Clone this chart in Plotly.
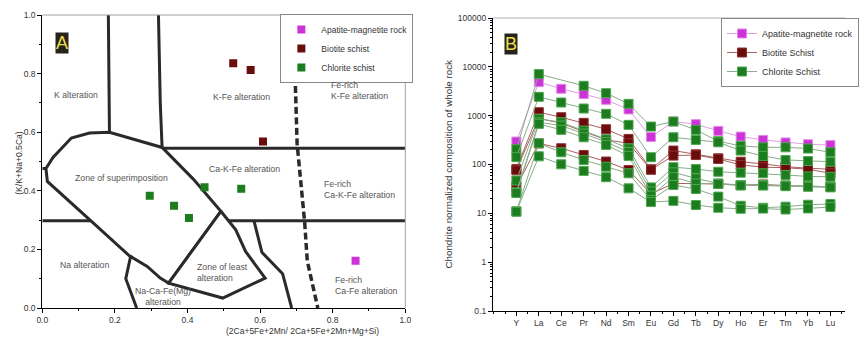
import plotly.graph_objects as go

# ---------------- Panel A : sample points ----------------
apatite_a_x = [0.863]
apatite_a_y = [0.161]
biotite_a_x = [0.526, 0.574, 0.608]
biotite_a_y = [0.835, 0.812, 0.568]
chlorite_a_x = [0.296, 0.363, 0.404, 0.447, 0.548]
chlorite_a_y = [0.383, 0.349, 0.307, 0.412, 0.407]

# ---------------- Panel A : field boundaries ----------------
k_line_x = [0.182, 0.185]
k_line_y = [1.0, 0.600]
kfe_line_x = [0.320, 0.325, 0.330]
kfe_line_y = [1.0, 0.700, 0.548]
h055_x = [0.330, 1.0]
h055_y = [0.545, 0.545]
h030_x = [0.0, 1.0]
h030_y = [0.298, 0.298]
stub_x = [0.0, 0.012]
stub_y = [0.476, 0.476]
superimp_x = [0.010, 0.030, 0.080, 0.130, 0.185, 0.330, 0.416, 0.492, 0.348, 0.325, 0.289, 0.240, 0.131, 0.014, 0.010]
superimp_y = [0.476, 0.515, 0.580, 0.597, 0.600, 0.548, 0.440, 0.330, 0.085, 0.102, 0.142, 0.178, 0.301, 0.432, 0.476]
least_x = [0.492, 0.533, 0.560, 0.614, 0.497, 0.348, 0.492]
least_y = [0.330, 0.267, 0.193, 0.102, 0.034, 0.085, 0.330]
nacafe_x = [0.244, 0.230, 0.260]
nacafe_y = [0.180, 0.100, 0.0]
right_x = [0.583, 0.605, 0.662, 0.687]
right_y = [0.298, 0.190, 0.117, 0.0]
dash_x = [0.664, 0.665, 0.696, 0.702, 0.723, 0.730, 0.759]
dash_y = [1.0, 0.890, 0.810, 0.560, 0.290, 0.160, 0.0]

field_labels = ["K alteration", "K-Fe alteration", "Ca-K-Fe alteration", "Zone of superimposition",
                "Na alteration", "Na-Ca-Fe(Mg)<br>alteration"]
field_lx = [0.092, 0.548, 0.558, 0.219, 0.117, 0.332]
field_ly = [0.728, 0.719, 0.475, 0.443, 0.147, 0.040]
field_labels_left = ["Fe-rich<br>K-Fe alteration", "Fe-rich<br>Ca-K-Fe alteration",
                     "Zone of least<br>alteration", "Fe-rich<br>Ca-Fe alteration"]
field_llx = [0.790, 0.770, 0.422, 0.800]
field_lly = [0.742, 0.403, 0.122, 0.077]

# ---------------- Panel B : chondrite-normalised REE ----------------
ree = ["Y", "La", "Ce", "Pr", "Nd", "Sm", "Eu", "Gd", "Tb", "Dy", "Ho", "Er", "Tm", "Yb", "Lu"]
apatite_ree = [295, 4860, 3550, 2760, 2110, 1340, 365, 760, 670, 488, 373, 319, 283, 260, 250]
biotite_ree_1 = [81, 1178, 930, 712, 528, 334, 80, 193, 162, 134, 114, 103, 90, 84, 80]
biotite_ree_2 = [76, 880, 700, 480, 320, 272, 78, 152, 156, 130, 98, 88, 86, 80, 66]
biotite_ree_3 = [35, 270, 215, 157, 115, 77, 25, 41, 41, 40, 38, 39, 37, 36, 35]
chlorite_ree_1 = [205, 7100, None, 4090, 2890, 1747, 598, 758, 512, 300, 240, 225, 225, 212, 178]
chlorite_ree_2 = [141, 2430, 1860, 1400, 1090, 648, 141, 361, 319, 285, 193, 150, 124, 118, 114]
chlorite_ree_3 = [47, 860, 734, 495, 329, 215, 34, 88, 81, 71, 68, 66, 61, 57, 56]
chlorite_ree_4 = [27, 734, 628, 430, 290, 180, 28, 69, 52, 41, 38, 38, 37, 36, 35]
chlorite_ree_5 = [26, 679, 512, 361, 252, 150, 23, 55, 41, 40, 37, 37, 36, 35, 34]
chlorite_ree_6 = [11, 272, 178, 124, 90, 66, 18.7, 38, 31.5, 22, 14.3, 13, 13.7, 15, 15.5]
chlorite_ree_7 = [10.8, 147, 101, 74, 55, 32.5, 17, 18, 14.8, 13, 12.4, 12.5, 12, 12.6, 13.5]

y_ticks_b = [0.1, 1, 10, 100, 1000, 10000, 100000]
y_ticktext_b = ["0.1", "1", "10", "100", "1000", "10000", "100000"]

FONT = "Liberation Sans, Arial, sans-serif"
LINE = "#2a2a2a"
MAG, RED, GRN = "#cc33d6", "#6b0c0c", "#1c7c1f"

fig = go.Figure()

def bound(x, y, dash=None, fill=False, width=3):
    fig.add_trace(go.Scatter(
        x=x, y=y, mode="lines", xaxis="x", yaxis="y", showlegend=False, hoverinfo="skip",
        line=dict(color=LINE, width=width, dash=dash),
        fill="toself" if fill else None, fillcolor="white" if fill else None))

bound(h030_x, h030_y)
bound(h055_x, h055_y)
bound(k_line_x, k_line_y)
bound(kfe_line_x, kfe_line_y)
bound(stub_x, stub_y)
bound(superimp_x, superimp_y, fill=True)
bound(least_x, least_y, fill=True)
bound(nacafe_x, nacafe_y)
bound(right_x, right_y)
bound(dash_x, dash_y, dash="7px,3.5px", width=3.5)

for nm, xs, ys, c in [("Apatite-magnetite rock", apatite_a_x, apatite_a_y, MAG),
                      ("Biotite schist", biotite_a_x, biotite_a_y, RED),
                      ("Chlorite schist", chlorite_a_x, chlorite_a_y, GRN)]:
    fig.add_trace(go.Scatter(x=xs, y=ys, mode="markers", name=nm, xaxis="x", yaxis="y",
                             legend="legend",
                             marker=dict(symbol="square", size=8, color=c, line=dict(width=0))))

# Panel B traces
xi = list(range(len(ree)))
groups = [
    ("Apatite-magnetite rock", [apatite_ree], MAG, "#e489ea", "#d9a0de"),
    ("Biotite Schist", [biotite_ree_1, biotite_ree_2, biotite_ree_3], RED, "#8f3030", "#a86060"),
    ("Chlorite Schist", [chlorite_ree_1, chlorite_ree_2, chlorite_ree_3, chlorite_ree_4,
                         chlorite_ree_5, chlorite_ree_6, chlorite_ree_7], GRN, "#4da84f", "#8aac8a"),
]
for nm, series, c, edge, lc in groups:
    for i, s in enumerate(series):
        fig.add_trace(go.Scatter(
            x=xi, y=s, mode="lines+markers", name=nm, legendgroup=nm, showlegend=(i == 0),
            legend="legend2", xaxis="x2", yaxis="y2", connectgaps=True,
            line=dict(color=lc, width=1),
            marker=dict(symbol="square", size=9, color=c, line=dict(color=edge, width=1))))

# annotations
ann = []
for t, x, y in zip(field_labels, field_lx, field_ly):
    ann.append(dict(text=t, x=x, y=y, xref="x", yref="y", showarrow=False,
                    font=dict(family=FONT, size=8.7, color="#555555"), align="center"))
for t, x, y in zip(field_labels_left, field_llx, field_lly):
    ann.append(dict(text=t, x=x, y=y, xref="x", yref="y", showarrow=False, xanchor="left",
                    font=dict(family=FONT, size=8.7, color="#555555"), align="left"))
ann += [
    dict(text="A", x=0.036, y=0.942, xref="x domain", yref="y domain", showarrow=False,
         font=dict(family=FONT, size=18, color="#f0de4a"), bgcolor="#26241a", borderpad=0),
    dict(text="B", x=0.032, y=0.95, xref="x2 domain", yref="y2 domain", showarrow=False,
         font=dict(family=FONT, size=18, color="#f0de4a"), bgcolor="#26241a", borderpad=0),
    dict(text="(K/K+Na+0.5Ca)", x=12 / 859, y=1 - 163 / 343, xref="paper", yref="paper",
         showarrow=False, textangle=-90, font=dict(family=FONT, size=8.6, color="#333333")),
    dict(text="(2Ca+5Fe+2Mn/ 2Ca+5Fe+2Mn+Mg+Si)", x=228 / 859, y=1 - 338 / 343,
         xref="paper", yref="paper", showarrow=False,
         font=dict(family=FONT, size=8.5, color="#333333")),
    dict(text="Chondrite normalized composition of whole rock", x=456 / 859, y=1 - 164 / 343,
         xref="paper", yref="paper", showarrow=False, textangle=-90,
         font=dict(family=FONT, size=9.8, color="#333333")),
]

shapes = [
    dict(type="line", xref="x domain", yref="y domain", x0=0, x1=1, y0=1, y1=1,
         line=dict(color="#a0a0a0", width=1)),
    dict(type="line", xref="x domain", yref="y domain", x0=1, x1=1, y0=0, y1=1,
         line=dict(color="#a0a0a0", width=1)),
    dict(type="line", xref="x2 domain", yref="y2 domain", x0=0, x1=1, y0=1, y1=1,
         line=dict(color="#b0b0b0", width=1)),
]

tickfont = dict(family=FONT, size=8.5, color="#333333")
axA = dict(range=[0, 1], tickvals=[0, 0.2, 0.4, 0.6, 0.8, 1.0], tickformat=".1f",
           ticks="outside", ticklen=4, tickcolor="black", showline=True, linecolor="black",
           linewidth=1, showgrid=False, zeroline=False, automargin=False, tickfont=tickfont,
           minor=dict(ticks="outside", ticklen=2, dtick=0.1, tick0=0, tickcolor="black"))

minor_log = [m * 10.0 ** e for e in range(-1, 5) for m in range(2, 10)]

fig.update_layout(
    width=859, height=343, autosize=False,
    margin=dict(l=0, r=0, t=0, b=0),
    paper_bgcolor="white", plot_bgcolor="white",
    font=dict(family=FONT),
    xaxis=dict(domain=[43 / 859, 412 / 859], anchor="y", **axA),
    yaxis=dict(domain=[35 / 343, 328 / 343], anchor="x", **axA),
    xaxis2=dict(domain=[501 / 859, 1.0], anchor="y2", range=[-1.05, 14.65],
                tickvals=xi, ticktext=ree, ticks="outside", ticklen=4, tickcolor="black",
                showline=True, linecolor="black", linewidth=1, showgrid=False, zeroline=False,
                automargin=False, tickfont=tickfont,
                minor=dict(ticks="outside", ticklen=2, dtick=0.5, tick0=0, tickcolor="black")),
    yaxis2=dict(domain=[32 / 343, 325 / 343], anchor="x2", type="log", range=[-1, 5],
                tickvals=y_ticks_b, ticktext=y_ticktext_b, ticks="outside", ticklen=4,
                tickcolor="black", showline=True, linecolor="black", linewidth=1,
                showgrid=False, zeroline=False, automargin=False, tickfont=tickfont,
                minor=dict(ticks="outside", ticklen=2, tickvals=minor_log, tickcolor="black")),
    legend=dict(x=285 / 859, y=1 - 14 / 343, xanchor="left", yanchor="top",
                bgcolor="white", bordercolor="#888888", borderwidth=1,
                font=dict(family=FONT, size=8.5, color="#333333"), tracegroupgap=0),
    legend2=dict(x=733 / 859, y=1 - 18 / 343, xanchor="left", yanchor="top",
                 bgcolor="white", bordercolor="#888888", borderwidth=1,
                 font=dict(family=FONT, size=9, color="#333333"), tracegroupgap=0),
    annotations=ann,
    shapes=shapes,
    showlegend=True,
)

fig.write_html("out.html")
